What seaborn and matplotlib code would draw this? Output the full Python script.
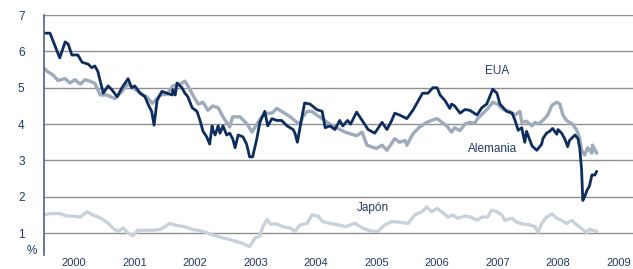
import numpy as np
import pandas as pd
import seaborn as sns
import matplotlib.pyplot as plt
from matplotlib.ticker import FixedLocator, NullFormatter

# long-term bond yields (%)
eua_t = [2000.00, 2000.10, 2000.26, 2000.35, 2000.40, 2000.46, 2000.56, 2000.63, 2000.73, 2000.79,
         2000.84, 2000.89, 2000.98, 2001.06, 2001.12, 2001.21, 2001.29, 2001.39, 2001.45, 2001.50,
         2001.59, 2001.67, 2001.72, 2001.78, 2001.82, 2001.87, 2001.95, 2002.03, 2002.12, 2002.13,
         2002.17, 2002.20, 2002.28, 2002.33, 2002.38, 2002.45, 2002.53, 2002.58, 2002.63, 2002.69,
         2002.74, 2002.78, 2002.79, 2002.83, 2002.88, 2002.91, 2002.96, 2003.02, 2003.07, 2003.12,
         2003.16, 2003.21, 2003.29, 2003.35, 2003.40, 2003.45, 2003.52, 2003.57, 2003.65, 2003.70,
         2003.77, 2003.85, 2003.93, 2004.02, 2004.12, 2004.15, 2004.19, 2004.26, 2004.31, 2004.40,
         2004.51, 2004.60, 2004.65, 2004.73, 2004.81, 2004.89, 2004.94, 2005.02, 2005.07, 2005.17,
         2005.26, 2005.36, 2005.47, 2005.55, 2005.59, 2005.67, 2005.75, 2005.80, 2005.88, 2006.00,
         2006.10, 2006.26, 2006.35, 2006.43, 2006.50, 2006.55, 2006.63, 2006.71, 2006.74, 2006.79,
         2006.88, 2006.96, 2007.04, 2007.16, 2007.24, 2007.32, 2007.37, 2007.42, 2007.49, 2007.54,
         2007.65, 2007.74, 2007.79, 2007.84, 2007.90, 2007.95, 2007.98, 2008.07, 2008.15, 2008.23,
         2008.25, 2008.31, 2008.36, 2008.41, 2008.48, 2008.50, 2008.56, 2008.61, 2008.66, 2008.69,
         2008.78, 2008.83, 2008.86, 2008.89, 2008.91, 2008.94, 2008.98, 2009.02, 2009.06, 2009.11,
         2009.14]
eua_v = [6.50, 6.50, 5.82, 6.26, 6.20, 5.90, 5.90, 5.70, 5.65, 5.55,
         5.60, 5.45, 4.85, 5.05, 4.95, 4.75, 5.00, 5.25, 5.00, 5.05,
         4.85, 4.75, 4.55, 4.35, 3.97, 4.65, 4.90, 4.85, 4.80, 4.95,
         4.80, 5.13, 5.00, 4.85, 4.75, 4.45, 4.35, 4.10, 3.80, 3.65,
         3.45, 3.95, 3.85, 3.70, 3.95, 3.75, 3.95, 3.70, 3.75, 3.60,
         3.35, 3.70, 3.65, 3.45, 3.10, 3.10, 3.60, 4.05, 4.35, 3.95,
         4.15, 4.10, 4.10, 3.95, 3.85, 3.75, 3.50, 4.15, 4.58, 4.55,
         4.40, 4.35, 3.90, 3.95, 3.85, 4.10, 3.95, 4.10, 4.00, 4.33,
         4.10, 3.85, 3.75, 3.95, 4.05, 3.85, 4.10, 4.30, 4.25, 4.15,
         4.38, 4.85, 4.85, 5.00, 5.00, 4.80, 4.65, 4.43, 4.55, 4.50,
         4.30, 4.40, 4.38, 4.25, 4.45, 4.55, 4.75, 4.96, 4.85, 4.55,
         4.35, 4.30, 4.10, 3.83, 3.90, 3.50, 3.80, 3.40, 3.28, 3.45,
         3.60, 3.75, 3.80, 3.88, 3.72, 3.85, 3.75, 3.60, 3.38, 3.55,
         3.70, 3.60, 3.33, 2.73, 1.90, 2.00, 2.18, 2.30, 2.60, 2.60,
         2.70]

ale_t = [2000.00, 2000.07, 2000.15, 2000.23, 2000.35, 2000.43, 2000.51, 2000.60, 2000.68, 2000.76,
         2000.84, 2000.93, 2001.04, 2001.17, 2001.29, 2001.39, 2001.47, 2001.59, 2001.70, 2001.79,
         2001.84, 2001.92, 2002.03, 2002.13, 2002.25, 2002.33, 2002.38, 2002.46, 2002.55, 2002.63,
         2002.71, 2002.79, 2002.88, 2002.96, 2003.07, 2003.12, 2003.24, 2003.36, 2003.44, 2003.52,
         2003.60, 2003.69, 2003.77, 2003.85, 2003.95, 2004.07, 2004.18, 2004.23, 2004.28, 2004.35,
         2004.43, 2004.51, 2004.60, 2004.68, 2004.78, 2004.86, 2004.98, 2005.09, 2005.17, 2005.26,
         2005.34, 2005.42, 2005.50, 2005.59, 2005.67, 2005.75, 2005.80, 2005.88, 2005.97, 2006.00,
         2006.10, 2006.21, 2006.33, 2006.41, 2006.50, 2006.58, 2006.66, 2006.74, 2006.79, 2006.88,
         2006.96, 2007.04, 2007.12, 2007.17, 2007.26, 2007.34, 2007.42, 2007.50, 2007.59, 2007.70,
         2007.79, 2007.87, 2007.90, 2007.98, 2008.07, 2008.12, 2008.17, 2008.25, 2008.33, 2008.40,
         2008.48, 2008.53, 2008.58, 2008.64, 2008.69, 2008.74, 2008.81, 2008.86, 2008.89, 2008.94,
         2008.99, 2009.06, 2009.07, 2009.14]
ale_v = [5.54, 5.43, 5.35, 5.20, 5.25, 5.13, 5.22, 5.10, 5.22, 5.18,
         5.12, 4.80, 4.80, 4.70, 4.90, 5.10, 5.00, 4.85, 4.75, 4.57,
         4.65, 4.80, 4.82, 5.05, 5.10, 5.18, 5.05, 4.80, 4.55, 4.60,
         4.38, 4.50, 4.45, 4.20, 3.92, 4.20, 4.20, 4.00, 3.78, 4.00,
         4.20, 4.30, 4.30, 4.43, 4.33, 4.20, 4.05, 4.00, 4.20, 4.35,
         4.35, 4.25, 4.15, 4.05, 3.95, 3.88, 3.78, 3.72, 3.68, 3.78,
         3.42, 3.37, 3.33, 3.42, 3.28, 3.47, 3.60, 3.50, 3.55, 3.42,
         3.73, 3.92, 4.05, 4.10, 4.15, 4.05, 3.95, 3.78, 3.90, 3.82,
         4.00, 4.05, 4.02, 4.15, 4.30, 4.43, 4.60, 4.55, 4.40, 4.35,
         4.25, 4.35, 4.05, 4.08, 3.95, 4.05, 4.00, 4.10, 4.25, 4.52,
         4.60, 4.55, 4.25, 4.10, 4.05, 4.00, 3.83, 3.60, 3.28, 3.15,
         3.35, 3.20, 3.42, 3.20]

jap_t = [2000.00, 2000.10, 2000.26, 2000.38, 2000.48, 2000.60, 2000.71, 2000.81, 2000.93, 2001.04,
         2001.14, 2001.22, 2001.31, 2001.39, 2001.47, 2001.55, 2001.67, 2001.80, 2001.92, 2002.00,
         2002.08, 2002.17, 2002.25, 2002.36, 2002.46, 2002.63, 2002.79, 2002.96, 2003.12, 2003.27,
         2003.40, 2003.49, 2003.57, 2003.62, 2003.69, 2003.74, 2003.85, 2003.95, 2004.07, 2004.15,
         2004.23, 2004.35, 2004.43, 2004.53, 2004.61, 2004.73, 2004.86, 2004.99, 2005.14, 2005.27,
         2005.42, 2005.52, 2005.64, 2005.75, 2005.88, 2006.02, 2006.13, 2006.25, 2006.33, 2006.41,
         2006.50, 2006.60, 2006.68, 2006.76, 2006.84, 2006.96, 2007.04, 2007.16, 2007.24, 2007.34,
         2007.40, 2007.49, 2007.57, 2007.62, 2007.74, 2007.82, 2007.92, 2008.03, 2008.12, 2008.17,
         2008.23, 2008.31, 2008.40, 2008.48, 2008.56, 2008.64, 2008.73, 2008.81, 2008.91, 2008.98,
         2009.02, 2009.07, 2009.14]
jap_v = [1.50, 1.54, 1.54, 1.47, 1.47, 1.44, 1.59, 1.50, 1.42, 1.30,
         1.14, 1.05, 1.14, 1.00, 0.93, 1.08, 1.08, 1.08, 1.10, 1.18,
         1.27, 1.22, 1.20, 1.16, 1.10, 1.05, 0.95, 0.87, 0.80, 0.73,
         0.63, 0.87, 0.92, 1.18, 1.38, 1.25, 1.25, 1.18, 1.14, 1.05,
         1.22, 1.27, 1.50, 1.47, 1.32, 1.27, 1.23, 1.18, 1.27, 1.14,
         1.05, 1.05, 1.23, 1.32, 1.30, 1.27, 1.50, 1.59, 1.72, 1.59,
         1.68, 1.56, 1.44, 1.50, 1.41, 1.47, 1.45, 1.36, 1.44, 1.45,
         1.63, 1.59, 1.50, 1.35, 1.41, 1.30, 1.25, 1.23, 1.18, 1.02,
         1.27, 1.44, 1.53, 1.41, 1.35, 1.27, 1.35, 1.23, 1.10, 1.02,
         1.11, 1.08, 1.05]

years = list(range(2000, 2010))
yticks = [1, 2, 3, 4, 5, 6, 7]

navy = '#0c2d5e'
text_col = '#1f3a66'

sns.set_style('white')
plt.rcParams['font.family'] = ['Liberation Sans', 'DejaVu Sans']

df = pd.concat([
    pd.DataFrame({'t': jap_t, 'v': jap_v, 'pais': 'Japón'}),
    pd.DataFrame({'t': ale_t, 'v': ale_v, 'pais': 'Alemania'}),
    pd.DataFrame({'t': eua_t, 'v': eua_v, 'pais': 'EUA'}),
])

fig = plt.figure(figsize=(6.33, 2.69), dpi=100)
ax = fig.add_axes([44 / 633, 1 - 255 / 269, 589 / 633, 240 / 269])

ax.set_axisbelow(True)
ax.yaxis.grid(True, color='#8f8f8f', linewidth=1.0)

pal = {'Japón': '#c9d1dc', 'Alemania': '#9eabbd', 'EUA': navy}
widths = {'Japón': 2.4, 'Alemania': 2.4, 'EUA': 2.0}
for name in ['Japón', 'Alemania', 'EUA']:
    sub = df[df['pais'] == name]
    sns.lineplot(data=sub, x='t', y='v', color=pal[name], linewidth=widths[name],
                 ax=ax, legend=False, estimator=None, sort=False)

ax.set_xlim(2000, 2009.74)
ax.set_ylim(0.4, 7)
ax.set_xlabel('')
ax.set_ylabel('')

ax.set_yticks(yticks)
ax.set_yticklabels([str(v) for v in yticks], color=text_col, fontsize=8.5)
ax.tick_params(axis='y', length=0, pad=14)

ax.xaxis.set_major_locator(FixedLocator(years))
ax.xaxis.set_major_formatter(NullFormatter())
ax.xaxis.set_minor_locator(FixedLocator([y + 0.5 for y in years]))
ax.set_xticklabels([str(y) for y in years], minor=True, color=text_col, fontsize=8)
ax.tick_params(axis='x', which='major', length=4, width=1, color='#3b5075', direction='out')
ax.tick_params(axis='x', which='minor', length=0, pad=2)

for side in ['top', 'right', 'bottom']:
    ax.spines[side].set_visible(False)
ax.spines['left'].set_color('#4d6285')
ax.spines['left'].set_linewidth(1.2)

ax.text(-0.012, 0.5, '%', transform=ax.get_yaxis_transform(), ha='right', va='center',
        color=text_col, fontsize=8.5)

ax.text(2007.49, 5.46, 'EUA', ha='center', va='center', color=text_col, fontsize=8.5)
ax.text(2007.42, 3.31, 'Alemania', ha='center', va='center', color=text_col, fontsize=8.5)
ax.text(2005.44, 1.68, 'Japón', ha='center', va='center', color=text_col, fontsize=8.5)

fig.savefig('out.png', dpi=100)
